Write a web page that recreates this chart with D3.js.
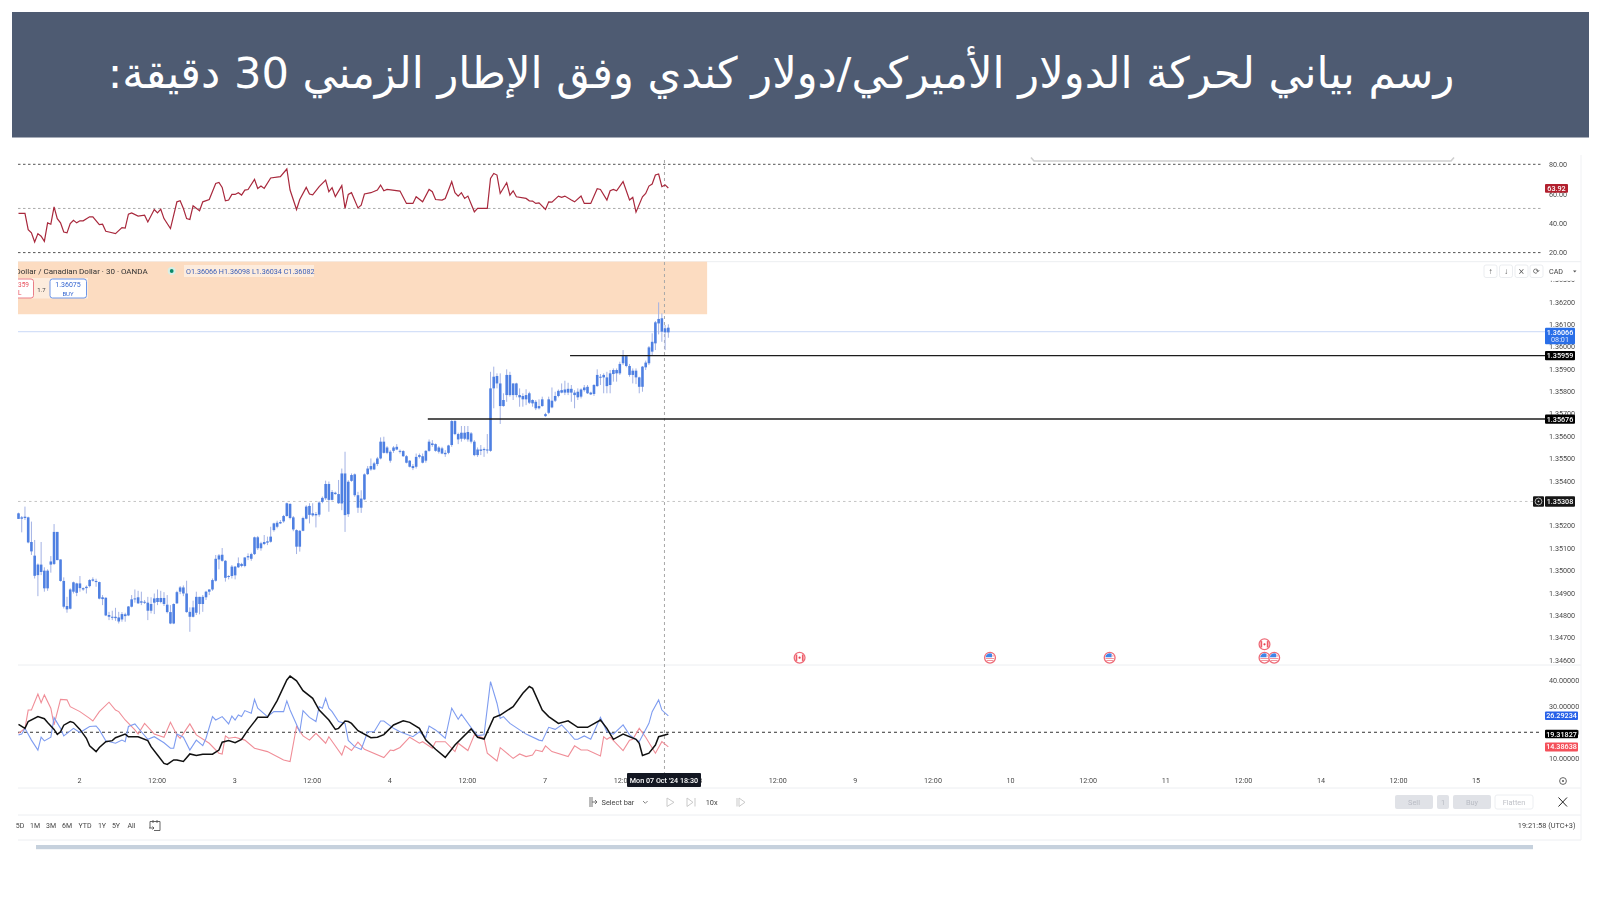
<!DOCTYPE html>
<html lang="ar">
<head>
<meta charset="utf-8">
<title>USD/CAD 30m</title>
<script src="https://cdn.jsdelivr.net/npm/d3@7/dist/d3.min.js"></script>
<style>
html,body{margin:0;padding:0;background:#fff;width:1600px;height:900px;overflow:hidden}
svg{display:block;position:absolute;left:0;top:0}
#chart{filter:blur(0.45px)}
text{font-family:Roboto,"Open Sans",sans-serif}
</style>
</head>
<body>
<svg id="chart" width="1600" height="900"></svg>
<script>
const titleText = "رسم بياني لحركة الدولار الأميركي/دولار كندي وفق الإطار الزمني 30 دقيقة:";

// Candle prices, in 0.00001 above 1.34000, one entry per 30-minute bar
const priceBase = 1.34, pipette = 0.00001;
const highs = [1258,1243,1285,1240,1218,1136,1031,1127,1014,1005,
1064,1207,1172,1049,969,882,920,950,945,975,
924,933,961,969,963,950,890,880,815,820,
833,815,814,811,841,890,915,909,905,868,
882,880,897,915,909,903,890,845,853,909,
930,933,954,835,865,905,882,890,909,915,
964,1069,1073,1100,1046,979,1024,1020,1058,1034,
1058,1076,1079,1151,1154,1128,1158,1151,1195,1213,
1222,1225,1248,1303,1300,1243,1183,1180,1240,1291,
1300,1300,1261,1309,1330,1401,1397,1359,1352,1404,
1455,1530,1403,1433,1433,1351,1358,1433,1466,1500,
1485,1507,1594,1597,1555,1537,1555,1564,1540,1537,
1515,1493,1475,1522,1522,1522,1537,1585,1582,1567,
1555,1552,1537,1561,1671,1671,1615,1645,1645,1645,
1618,1582,1549,1560,1549,1609,1887,1910,1880,1880,
1791,1898,1887,1835,1838,1813,1791,1809,1798,1764,
1761,1764,1776,1704,1776,1817,1798,1808,1835,1847,
1838,1828,1805,1813,1813,1828,1828,1798,1832,1898,
1877,1880,1887,1895,1902,1902,1932,1984,1962,1922,
1902,1902,1865,1913,1937,2002,2059,2114,2197,2148,
2096,2099];
const bodyTops = [1255,1237,1240,1237,1127,1066,1026,1026,999,999,
1040,1172,1172,1049,953,841,915,947,942,942,
921,927,957,960,953,948,880,878,801,793,
793,790,805,804,839,871,875,880,862,860,
856,850,875,877,877,877,847,814,850,903,
924,924,897,815,835,882,882,882,905,915,
957,1052,1067,1070,1043,975,1017,1017,1032,1029,
1058,1064,1073,1148,1148,1121,1127,1130,1151,1210,
1213,1216,1243,1300,1297,1237,1180,1177,1234,1285,
1288,1255,1252,1303,1324,1386,1386,1350,1347,1341,
1433,1433,1396,1426,1429,1336,1321,1429,1455,1466,
1478,1500,1575,1575,1549,1530,1549,1552,1534,1533,
1510,1490,1466,1507,1515,1510,1534,1575,1567,1564,
1549,1545,1525,1558,1667,1667,1609,1615,1615,1618,
1612,1575,1540,1540,1542,1540,1813,1865,1868,1835,
1761,1873,1873,1835,1835,1783,1779,1783,1791,1761,
1753,1734,1764,1698,1764,1758,1779,1802,1805,1808,
1811,1811,1794,1798,1808,1817,1820,1794,1828,1873,
1865,1873,1862,1880,1895,1895,1922,1957,1957,1913,
1892,1892,1862,1910,1928,1996,2021,2108,2123,2126,
2081,2084];
const bodyBottoms = [1230,1231,1234,1125,1085,976,979,993,920,920,
1026,1029,1046,953,838,826,829,905,900,921,
915,921,930,954,948,874,872,799,793,789,
787,772,781,796,799,838,871,853,856,856,
820,820,856,859,859,850,814,763,763,853,
905,897,814,793,793,811,850,850,880,905,
915,954,1049,1043,967,972,975,978,1014,1020,
1020,1058,1052,1073,1099,1099,1118,1124,1128,1180,
1195,1210,1219,1243,1234,1183,1106,1106,1177,1231,
1248,1246,1246,1249,1306,1322,1315,1315,1341,1300,
1299,1247,1251,1400,1336,1280,1280,1317,1430,1451,
1451,1475,1500,1525,1525,1490,1534,1540,1531,1510,
1481,1463,1457,1463,1507,1481,1490,1534,1560,1534,
1530,1522,1519,1525,1560,1609,1585,1588,1588,1585,
1575,1515,1515,1534,1537,1536,1534,1813,1835,1734,
1734,1783,1783,1783,1783,1773,1764,1764,1749,1746,
1724,1724,1734,1689,1704,1728,1758,1779,1794,1794,
1794,1794,1783,1773,1776,1805,1791,1786,1788,1823,
1862,1862,1823,1828,1877,1880,1880,1925,1913,1873,
1873,1862,1820,1820,1907,1925,1977,2014,2103,2066,
2063,2063];
const lows = [1230,1170,1225,1121,1069,964,885,979,905,909,
990,1024,1046,950,830,811,826,897,885,905,
909,897,924,950,927,871,845,796,778,778,
775,763,771,771,796,835,856,850,845,850,
778,808,805,845,853,841,808,760,760,850,
894,885,811,726,790,801,804,815,868,890,
909,950,1005,1039,950,960,964,960,1011,1014,
1014,1046,1043,1069,1091,1088,1113,1113,1124,1173,
1188,1207,1213,1240,1228,1175,1073,1084,1175,1228,
1210,1240,1192,1240,1300,1315,1262,1312,1338,1297,
1269,1172,1239,1396,1329,1257,1257,1314,1426,1445,
1448,1466,1496,1522,1519,1481,1525,1537,1522,1507,
1478,1460,1448,1455,1500,1478,1481,1530,1552,1530,
1522,1519,1507,1519,1552,1604,1564,1575,1582,1575,
1567,1510,1507,1515,1507,1522,1530,1724,1813,1654,
1731,1753,1776,1761,1773,1731,1731,1738,1743,1731,
1716,1719,1731,1686,1698,1724,1752,1773,1791,1783,
1783,1753,1724,1761,1768,1798,1788,1783,1779,1820,
1828,1791,1791,1791,1843,1843,1873,1917,1907,1865,
1835,1832,1791,1798,1895,1917,1960,1984,2054,2021,
1984,2039];

// RSI pane
const rsiBars = [0,2,3,4,5,6,7,8,9,10,11,12,13,14,15,16,17,18,19,20,22,23,25,26,27,28,30,32,33,34,35,37,39,40,42,43,44,45,47,49,50,51,52,53,54,56,57,59,61,62,63,64,65,66,67,68,69,70,71,73,74,75,76,78,81,83,84,86,87,89,90,91,93,95,96,97,98,100,101,102,103,105,106,107,109,111,112,113,114,118,120,122,123,125,127,128,129,131,132,134,135,136,137,138,139,141,142,145,146,147,148,149,151,152,153,154,157,158,159,160,161,163,164,165,167,168,169,171,172,174,175,177,179,180,182,183,184,185,187,189,190,191,193,194,195,196,197,198,199,200,201];
const rsiValues = [46.6,46.6,35.6,33.4,27.2,32.9,31.1,27.7,40.2,39.3,51.1,43.1,40.2,34,33.4,39.7,42,40.2,41.6,41.6,44.3,44.3,39,39.3,34.5,34,32.9,37,36.6,46.1,47,44.8,45.4,40.8,49.3,47,49.5,43.1,36.3,54.5,55.2,50,43.1,42.5,51.8,48.4,54.5,56.1,67,67.7,64.3,55.2,55.7,59.5,59.5,60.7,59.1,62.5,62.9,69.8,63.6,65.2,63.6,70.7,71.6,76.8,62.5,49.3,56.1,64.3,59.8,59.3,64.8,69.3,61.4,64.1,58,65.5,50,59.5,60.7,50.4,52.2,59.8,60.7,62.5,65.9,62,62.9,61.8,53.4,53.4,58,54.5,62.9,61.4,56.1,55.7,56.8,68.2,60.7,58.4,60.7,56.8,58.4,47.7,50,50,70.4,73.8,72.7,60.2,67.5,59.1,62,57.9,56.8,55.2,55,53.4,53.8,49.3,54.5,54.3,58.4,57.5,58.4,55.7,54.5,58.4,53.4,53.4,63.4,62.9,55.7,62,62.9,62,68.2,55.7,57.5,47.5,57.9,60.2,65.2,66.6,72.7,73.4,64.8,66,63.92];

// DMI pane
const adxBars = [0,2,3,6,8,9,11,12,13,14,16,17,19,21,22,24,25,27,29,30,33,34,37,40,41,43,45,46,48,49,51,53,55,57,60,62,63,65,67,69,71,74,77,80,83,84,86,88,91,93,96,98,99,101,102,103,105,109,111,113,116,119,121,124,126,129,132,135,140,142,144,147,149,153,156,158,159,162,164,167,170,173,176,180,182,184,187,191,192,193,195,197,198,201];
const adxValues = [23,21.5,24.1,26,25.2,23.7,21.1,19.2,20.2,22.7,24.1,23.7,21.1,17.7,14.8,12.6,14.2,16.4,16.8,17.9,19.3,18.3,18.3,16.8,14.5,11.3,8.1,7.7,9.4,9.4,8.8,11.7,11.1,11.6,11.6,13.2,16.2,16.8,16,17.3,20.9,25.7,25.7,32.1,40,41.5,39.7,35.9,33,28.5,24.7,21.1,21.5,24.3,24.1,23.4,20.6,17.9,18.1,19.1,22.8,24.4,23.8,21.5,17,13.5,10.4,15.1,21.3,18.1,17.4,25.6,26.6,29.8,34.9,37.5,36.8,28.5,26,23.4,24.4,21.9,21.9,24.7,21.5,17.3,19.3,17.3,15.8,11.1,12,15.1,18.3,19.32];
const plusBars = [0,1,2,4,6,7,8,10,11,13,14,17,19,22,24,25,27,30,32,33,34,36,38,40,42,45,47,48,49,51,53,55,57,58,60,61,63,65,66,67,68,69,70,72,73,74,77,79,82,83,84,87,88,90,92,93,94,95,96,97,99,101,102,104,106,108,110,112,113,116,118,122,124,126,127,129,132,134,136,137,140,142,144,146,148,149,150,152,155,157,161,162,164,166,168,170,172,173,175,177,180,182,184,187,189,192,195,196,198,199,201];
const plusValues = [19,19.3,21.5,17,13.2,18.1,16.7,18.1,25.6,21.5,18.6,21.5,19.9,22.2,22.4,20.9,16.7,15.8,17,16.4,22.2,23.2,20.2,17.3,18.3,16,13.9,13.9,19.3,18.1,13.2,17,14.9,17.7,26,24.7,26,23.2,26.2,24.7,26.6,26,28.3,27.3,32.6,29.2,26,27.9,27.9,32,28.5,20.2,28.3,25.7,24.1,29.8,29.2,33,29.2,27.9,24.1,23.4,16.9,14.5,13.4,20.2,20.2,24.3,24.3,21.5,20.2,18.3,20.2,18.1,22.4,20.9,17.7,29.2,25,26.9,21.8,18.7,19,39.4,31.1,25.3,26,23.4,20.9,19.3,17,16.7,21.9,21.1,22.8,20.2,17.3,17.3,18.6,17.3,25.7,20.2,19.3,22.8,19,16.4,23.4,27.9,32.4,28.5,26.29];
const minusBars = [0,2,3,4,6,7,8,10,11,13,15,16,19,22,23,25,28,30,31,33,36,37,39,42,45,47,49,50,53,55,59,62,63,64,65,67,70,73,77,82,84,86,88,90,92,95,96,100,101,103,105,107,113,115,116,118,121,124,125,128,129,132,135,136,139,141,144,145,148,149,153,155,157,159,160,162,163,165,170,172,174,176,180,181,182,183,187,189,190,192,194,197,199,201];
const minusValues = [19.6,21.5,28.5,28.5,34.6,31.3,34.3,29.2,22.8,32.6,32.4,29.8,27.9,25.3,24.3,27.9,31.5,28.5,27.9,24.7,20.9,19.3,23.4,19.3,18.1,23.8,19,17.7,23.2,19,15.8,12,11.7,18.6,17.7,18.1,17,13.9,12.6,9.4,8.8,22.2,18.6,17,19.6,15.8,18.3,11.3,14.8,13,16.2,13.5,10.3,13.2,13,14.2,18.1,15.8,16.4,13.9,16.4,16.4,12.6,15.8,13,19,17.7,12,9,14.1,10,11.7,10.7,11.3,13.2,12.6,14.8,12.6,10.7,14.8,13.2,13.2,10.9,18.3,17.3,18.1,13,17,17.3,21.5,18.1,12,16.4,14.39];

// Axes
const priceTicks = [1.363,1.362,1.361,1.360,1.359,1.358,1.357,1.356,1.355,1.354,1.353,1.352,1.351,1.350,1.349,1.348,1.347,1.346];
const rsiTicks = [80,60,40,20];
const rsiGuides = [80,50,20];
const dmiTicks = [40,30,20,10];
const dmiGuide = 20;
const timeTickBars = [18.7,42.7,66.7,90.7,114.7,138.7,162.7,186.7,210.7,234.7,258.7,282.7,306.7,330.7,354.7,378.7,402.7,426.7,450.7];
const timeTickLabels = ["2","12:00","3","12:00","4","12:00","7","12:00","8","12:00","9","12:00","10","12:00","11","12:00","14","12:00","15"];

// Drawn levels
const levelPrices = [1.35959, 1.35676];
const levelStartBars = [170.6, 126.6];
const levelLabels = ["1.35959", "1.35676"];
const lastPrice = 1.36066, avgPrice = 1.35308;
const bandTop = 1.36379, bandBottom = 1.36144, bandEndBar = 213;
const crossBar = 199.8;
const eventBars = [241.6, 300.5, 337.5, 385.4, 385.4, 388.4];
const eventRows = [0, 0, 0, 1, 0, 0];
const eventFlags = ["CA", "US", "US", "CA", "US", "US"];
const rangeLabels = ["5D","1M","3M","6M","YTD","1Y","5Y","All"];
const rangeLabelX = [20,35,51,67,85,102,116,131.5];
const ohlcText = "O1.36066 H1.36098 L1.36034 C1.36082";

const svg = d3.select("#chart");
const x = d3.scaleLinear().domain([0, 200]).range([18.5, 665.1]);
const py = d3.scaleLinear().domain([1.362, 1.346]).range([301.7, 660]);
const ry = d3.scaleLinear().domain([80, 20]).range([164.3, 252.6]);
const dy = d3.scaleLinear().domain([40, 10]).range([680, 758.4]);
const LEFT = 18, PLOT_R = 1541, EDGE = 1581;
const price = v => priceBase + v * pipette;

// Header
svg.append("rect").attr("x",12).attr("y",12).attr("width",1577).attr("height",125.5).attr("fill","#4e5b72");
svg.append("text").attr("x",781).attr("y",87.5).attr("text-anchor","middle").attr("direction","rtl")
  .attr("fill","#fff").style("font-family",'"DejaVu Sans",sans-serif').style("font-size","43.2px").text(titleText);

// Frame lines
const sep = [[LEFT,EDGE,261.7],[LEFT,EDGE,665],[LEFT,EDGE,788],[LEFT,EDGE,815],[LEFT,EDGE,840]];
svg.append("g").selectAll("line").data(sep).join("line")
  .attr("x1",d=>d[0]).attr("x2",d=>d[1]).attr("y1",d=>d[2]).attr("y2",d=>d[2])
  .attr("stroke","#eceef1").attr("stroke-width",1);
svg.append("line").attr("x1",EDGE).attr("x2",EDGE).attr("y1",155).attr("y2",840).attr("stroke","#f0f1f4");

// Bracket at top of RSI pane
svg.append("path").attr("d","M1031,157.5 L1034,161 L1451,161 L1454,157.5").attr("fill","none").attr("stroke","#cfcfcf").attr("stroke-width",1.6);

// Orange band
svg.append("rect").attr("x",LEFT).attr("width",x(bandEndBar)-LEFT)
  .attr("y",py(bandTop)).attr("height",py(bandBottom)-py(bandTop))
  .attr("fill","#fcdcc1");

// RSI guides
svg.append("g").selectAll("line").data(rsiGuides).join("line")
  .attr("x1",LEFT).attr("x2",PLOT_R).attr("y1",d=>ry(d)).attr("y2",d=>ry(d))
  .attr("stroke",d=>d===50?"#aaa":"#555").attr("stroke-dasharray","2.5,2.5").attr("stroke-width",1);

// Last-price and average lines
svg.append("line").attr("x1",LEFT).attr("x2",1545).attr("y1",py(lastPrice)).attr("y2",py(lastPrice)).attr("stroke","#c9d8f7");
svg.append("line").attr("x1",LEFT).attr("x2",1533).attr("y1",py(avgPrice)).attr("y2",py(avgPrice)).attr("stroke","#c4c4c4").attr("stroke-dasharray","2.5,3");

// Crosshair
svg.append("line").attr("x1",x(crossBar)).attr("x2",x(crossBar)).attr("y1",160).attr("y2",773).attr("stroke","#a8a8a8").attr("stroke-dasharray","3,3");

// RSI line
const rsiLine = d3.line().x((d,i)=>x(rsiBars[i])).y(d=>ry(d));
svg.append("path").attr("d",rsiLine(rsiValues)).attr("fill","none").attr("stroke","#a8283c").attr("stroke-width",1.2);

// Candles
const gc = svg.append("g");
gc.selectAll("line").data(highs).join("line")
  .attr("x1",(d,i)=>x(i)).attr("x2",(d,i)=>x(i))
  .attr("y1",d=>py(price(d))).attr("y2",(d,i)=>py(price(lows[i])))
  .attr("stroke","#a3b2e4").attr("stroke-width",1);
gc.selectAll("rect").data(bodyTops).join("rect")
  .attr("x",(d,i)=>x(i)-1.3).attr("width",2.6)
  .attr("y",d=>py(price(d))).attr("height",(d,i)=>Math.max(1,py(price(bodyBottoms[i]))-py(price(d))))
  .attr("fill","#4f80e2");

// Drawn levels
svg.append("g").selectAll("line").data(levelPrices).join("line")
  .attr("x1",(d,i)=>x(levelStartBars[i])).attr("x2",1545).attr("y1",d=>py(d)).attr("y2",d=>py(d))
  .attr("stroke","#1c1c1c").attr("stroke-width",1.4);

// DMI
const dmiLine = bars => d3.line().x((d,i)=>x(bars[i])).y(d=>dy(d));
svg.append("line").attr("x1",LEFT).attr("x2",PLOT_R).attr("y1",dy(dmiGuide)).attr("y2",dy(dmiGuide))
  .attr("stroke","#333").attr("stroke-dasharray","3,3");
svg.append("path").attr("d",dmiLine(minusBars)(minusValues)).attr("fill","none").attr("stroke","#f08e98").attr("stroke-width",1.1);
svg.append("path").attr("d",dmiLine(plusBars)(plusValues)).attr("fill","none").attr("stroke","#7e9cf0").attr("stroke-width",1.1);
svg.append("path").attr("d",dmiLine(adxBars)(adxValues)).attr("fill","none").attr("stroke","#111").attr("stroke-width",1.5);

// Right axes
function rightAxis(scale, ticks, fmt){
  const g = svg.append("g").attr("transform","translate(1549,0)")
    .call(d3.axisRight(scale).tickValues(ticks).tickSize(0).tickPadding(0).tickFormat(fmt));
  g.select(".domain").remove();
  g.selectAll("text").attr("fill","#4a4a4a").style("font-size","7.2px");
}
rightAxis(ry, rsiTicks, d3.format(".2f"));
rightAxis(py, priceTicks, d3.format(".5f"));
rightAxis(dy, dmiTicks, d3.format(".5f"));

// Time axis
const xa = svg.append("g").attr("transform","translate(0,777.5)")
  .call(d3.axisBottom(x).tickValues(timeTickBars).tickSize(0).tickPadding(0).tickFormat((d,i)=>timeTickLabels[i]));
xa.select(".domain").remove();
xa.selectAll("text").attr("fill","#4a4a4a").style("font-size","7.2px");

// Text helper
function label(xp,yp,t,o={}){
  return svg.append("text").attr("x",xp).attr("y",yp).attr("text-anchor",o.anchor||"start")
    .attr("dominant-baseline","central").attr("fill",o.fill||"#444")
    .style("font-size",(o.size||7.2)+"px").style("font-weight",o.weight||"normal").text(t);
}
function tag(x0,x1,y0,y1,fill,t,tf){
  svg.append("rect").attr("x",x0).attr("y",y0).attr("width",x1-x0).attr("height",y1-y0).attr("fill",fill).attr("rx",1);
  if(t) label((x0+x1)/2,(y0+y1)/2,t,{anchor:"middle",fill:tf||"#fff",size:7.2,weight:500});
}

// Axis tags
tag(1545,1568,184,192.7,"#b2202e","63.92");
tag(1545,1575,327.7,344.3,"#2a6fe8");
label(1560,332.2,"1.36066",{anchor:"middle",fill:"#fff",weight:500});
label(1560,339.6,"08:01",{anchor:"middle",fill:"#dbe6ff"});
levelPrices.forEach((p,i)=>tag(1545,1575,py(p)-4.6,py(p)+4.6,"#000",levelLabels[i]));
tag(1533,1544,py(avgPrice)-5.2,py(avgPrice)+5.4,"#161616");
tag(1545,1575,py(avgPrice)-5.2,py(avgPrice)+5.4,"#161616","1.35308");
svg.append("circle").attr("cx",1538.5).attr("cy",py(avgPrice)).attr("r",3.4).attr("fill","none").attr("stroke","#ddd").attr("stroke-width",.8);
svg.append("circle").attr("cx",1538.5).attr("cy",py(avgPrice)).attr("r",.9).attr("fill","#ddd");
tag(1545,1578,dy(26.29234)-4.2,dy(26.29234)+4.2,"#2962e8","26.29234");
tag(1545,1578,dy(19.31827)-4.3,dy(19.31827)+4.3,"#000","19.31827");
tag(1545,1578,dy(14.38638)-4.5,dy(14.38638)+4.5,"#f4505a","14.38638");

// Crosshair time tag
tag(627,701,773,787,"#131722");
label(664,780.3,"Mon 07 Oct '24   18:30",{anchor:"middle",fill:"#fff",size:7.2,weight:500});

// Legend on price pane
svg.append("rect").attr("x",184).attr("y",265).attr("width",130).attr("height",12).attr("fill","#fff").attr("opacity",.45);
svg.append("clipPath").attr("id","lc").append("rect").attr("x",18).attr("y",260).attr("width",300).attr("height",40);
svg.append("text").attr("clip-path","url(#lc)").attr("x",15.5).attr("y",271).attr("dominant-baseline","central")
  .attr("fill","#333").style("font-size","8px").text("Dollar / Canadian Dollar · 30 · OANDA");
svg.append("circle").attr("cx",171.7).attr("cy",271).attr("r",4).attr("fill","#d6efe6");
svg.append("circle").attr("cx",171.7).attr("cy",271).attr("r",1.9).attr("fill","#0a8a6a");
label(186,271,ohlcText,{fill:"#3b5fb8",size:7.2});

// Order buttons
svg.append("rect").attr("x",18).attr("y",278).attr("width",70).attr("height",20.5).attr("fill","#fff").attr("opacity",.45);
svg.append("path").attr("d","M18,279 H31 Q33.5,279 33.5,281.5 V295.5 Q33.5,298 31,298 H18").attr("fill","#fff").attr("stroke","#e8707c").attr("stroke-width",.9);
label(18,285,"359",{fill:"#e8505c",size:6.5});
label(18,293,"L",{fill:"#e8505c",size:6.5});
label(41.5,289,"1.7",{anchor:"middle",size:6});
svg.append("rect").attr("x",50).attr("y",279).attr("width",36.5).attr("height",19).attr("rx",2.5).attr("fill","#fff").attr("stroke","#5b8be6").attr("stroke-width",.9);
label(68,285,"1.36075",{anchor:"middle",fill:"#3465d0",size:7});
label(68,293,"BUY",{anchor:"middle",fill:"#3465d0",size:6});

// Top-right pane buttons (the white box hides most of the 1.36300 tick, as in the chart)
[1484,1499.5,1515,1530].forEach((bx,i)=>{
  svg.append("rect").attr("x",bx).attr("y",265).attr("width",13).attr("height",12.5).attr("rx",2).attr("fill","#fff").attr("stroke","#e6e8ec").attr("stroke-width",.8);
  label(bx+6.5,271.2,["↑","↓","⨯","⟳"][i],{anchor:"middle",fill:"#555",size:8});
});
svg.append("rect").attr("x",1547).attr("y",263).attr("width",31).attr("height",17.7).attr("rx",2).attr("fill","#fff");
label(1549,271.2,"CAD",{fill:"#444",size:7.2});
svg.append("path").attr("d","M1573,270.5 l3.5,0 l-1.75,2 z").attr("fill","#555");

// Event icons
const eg = svg.append("g").selectAll("g").data(eventBars).join("g")
  .attr("transform",(d,i)=>`translate(${x(d)},${657.7-13.4*eventRows[i]})`);
eg.append("circle").attr("r",5.4).attr("fill","#fff").attr("stroke","#ee6b78").attr("stroke-width",1.3);
eg.each(function(d,i){
  const g = d3.select(this);
  if(eventFlags[i]==="CA"){
    g.append("rect").attr("x",-4).attr("y",-3.2).attr("width",1.7).attr("height",6.4).attr("fill","#ef5a66");
    g.append("rect").attr("x",2.3).attr("y",-3.2).attr("width",1.7).attr("height",6.4).attr("fill","#ef5a66");
    g.append("circle").attr("r",1.1).attr("fill","#e0404e");
  } else {
    g.append("path").attr("d","M-4.4,-.5 A4.4,4.4 0 0 1 2,-3.9 L2,-.5 Z").attr("fill","#3f86e8");
    g.append("rect").attr("x",-4.2).attr("y",.3).attr("width",8.4).attr("height",.9).attr("fill","#ef8a94");
    g.append("rect").attr("x",-3.4).attr("y",2.3).attr("width",6.8).attr("height",.9).attr("fill","#ef8a94");
    g.append("rect").attr("x",2).attr("y",-2.2).attr("width",2).attr("height",.9).attr("fill","#ef8a94");
  }
});

// Time-axis settings icon
svg.append("circle").attr("cx",1563).attr("cy",781).attr("r",3.4).attr("fill","none").attr("stroke","#555").attr("stroke-width",.9);
svg.append("circle").attr("cx",1563).attr("cy",781).attr("r",1).attr("fill","#555");

// Replay toolbar
svg.append("path").attr("d","M590,797 V807 M592,797 V807 M592,802 H597 M595,800 L597,802 L595,804").attr("fill","none").attr("stroke","#666").attr("stroke-width",.9);
label(601.5,802.3,"Select bar",{fill:"#444",size:7.4});
svg.append("path").attr("d","M643,801 l2.3,2.3 l2.3,-2.3").attr("fill","none").attr("stroke","#666").attr("stroke-width",.8);
svg.append("path").attr("d","M667,798 L674,802.3 L667,806.5 Z").attr("fill","none").attr("stroke","#c9c9c9");
svg.append("path").attr("d","M687,798 L693,802.3 L687,806.5 Z M695,798 V806.5").attr("fill","none").attr("stroke","#c9c9c9");
label(711.7,802.3,"10x",{anchor:"middle",fill:"#444",size:7.4});
svg.append("path").attr("d","M737,798 V806.5 M739,798 L745,802.3 L739,806.5 Z").attr("fill","none").attr("stroke","#c9c9c9");
[[1395,1433,"Sell"],[1437,1449,"1"],[1453,1491,"Buy"]].forEach(b=>{
  svg.append("rect").attr("x",b[0]).attr("y",795).attr("width",b[1]-b[0]).attr("height",14).attr("rx",2).attr("fill","#e0e2e7");
  label((b[0]+b[1])/2,802.3,b[2],{anchor:"middle",fill:"#b9bcc4",size:7.4});
});
svg.append("rect").attr("x",1495).attr("y",795).attr("width",38).attr("height",14).attr("rx",2).attr("fill","#fff").attr("stroke","#eceef1");
label(1514,802.3,"Flatten",{anchor:"middle",fill:"#c0c2c8",size:7.4});
svg.append("path").attr("d","M1558.5,797.5 L1567,806.5 M1567,797.5 L1558.5,806.5").attr("stroke","#222").attr("stroke-width",1);

// Range selector row
rangeLabels.forEach((t,i)=>label(rangeLabelX[i],825.7,t,{anchor:"middle",fill:"#444",size:7}));
svg.append("path").attr("d","M150,828 V821.5 H160 V830.5 H154 M153,820 V823 M157,820 V823 M149,828 H154 M152.5,826.5 L154,828 L152.5,829.5").attr("fill","none").attr("stroke","#555").attr("stroke-width",.9);
label(1575.5,825.7,"19:21:58 (UTC+3)",{anchor:"end",fill:"#444",size:7.4});

// Scrollbar strip
svg.append("rect").attr("x",36).attr("y",845).attr("width",1497).attr("height",4.2).attr("fill","#c6d1dd");
</script>
</body>
</html>
